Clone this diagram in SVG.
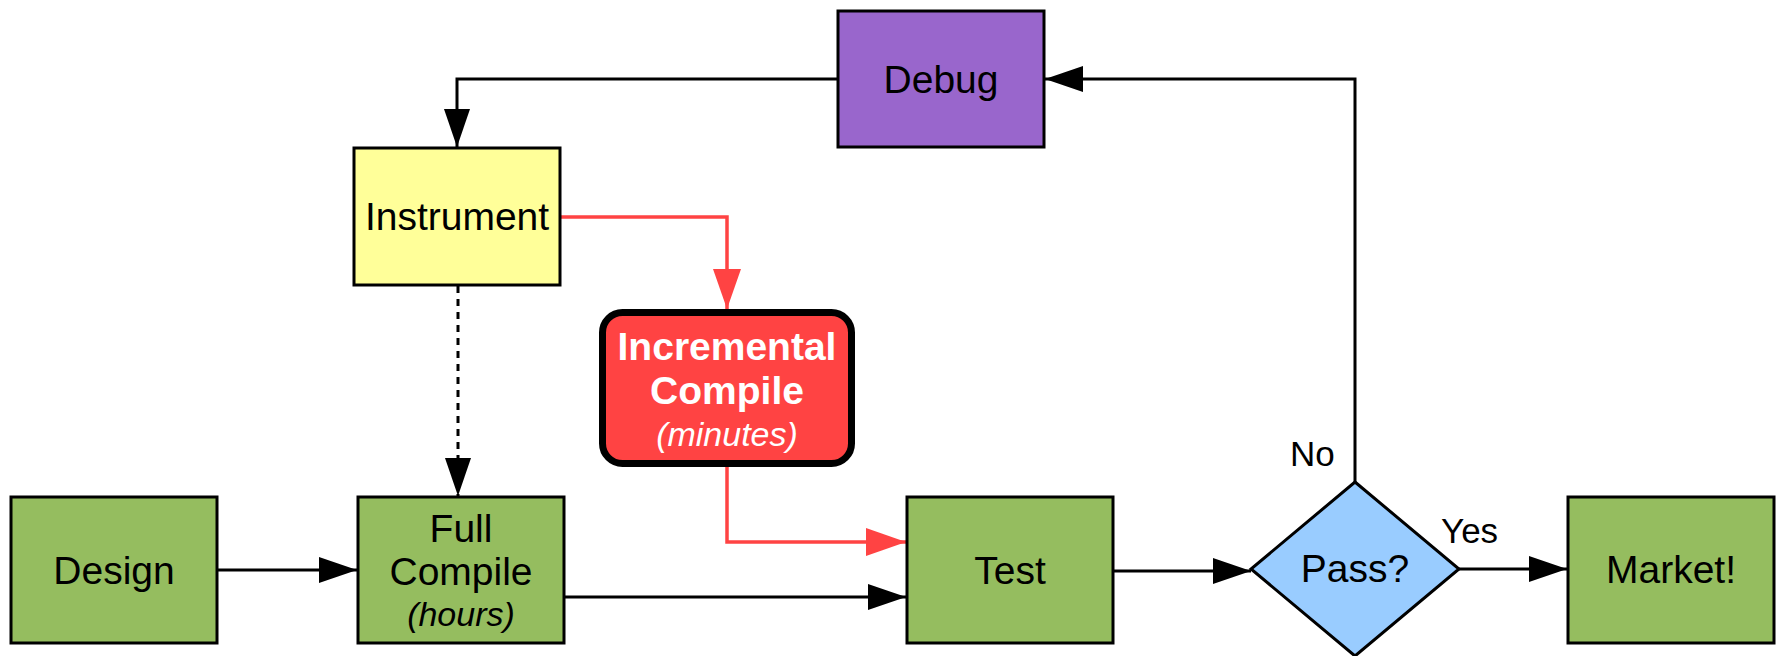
<svg xmlns="http://www.w3.org/2000/svg" width="1777" height="656" viewBox="0 0 1777 656">
  <style>
    .box { stroke: #000; stroke-width: 3; }
    .green { fill: #95bd5f; }
    .lbl { font-family: "Liberation Sans", Arial, sans-serif; font-size: 39px; fill: #000; text-anchor: middle; }
    .note { font-family: "Liberation Sans", Arial, sans-serif; font-size: 35px; fill: #000; }
    .ital { font-style: italic; font-size: 34px; }
    .wire { fill: none; stroke: #000; stroke-width: 3; }
    .hot { fill: none; stroke: #ff4343; stroke-width: 3.5; }
  </style>
  <defs>
    <marker id="arrow" markerUnits="userSpaceOnUse" markerWidth="38" markerHeight="26" refX="38" refY="13" orient="auto">
      <path d="M0,0 L38,13 L0,26 z" fill="#000"/>
    </marker>
    <marker id="arrowRed" markerUnits="userSpaceOnUse" markerWidth="40" markerHeight="28" refX="40" refY="14" orient="auto">
      <path d="M0,0 L40,14 L0,28 z" fill="#ff4343"/>
    </marker>
  </defs>

  <!-- connectors -->
  <g id="connectors">
    <path class="wire" d="M218,570 H357" marker-end="url(#arrow)"/>
    <path class="wire" d="M565,597 H906" marker-end="url(#arrow)"/>
    <path class="wire" d="M1114,571 H1251" marker-end="url(#arrow)"/>
    <path class="wire" d="M1459,569 H1567" marker-end="url(#arrow)"/>
    <path class="wire" d="M1355,482 V79 H1045" marker-end="url(#arrow)"/>
    <path class="wire" d="M837,79 H457 V147" marker-end="url(#arrow)"/>
    <path class="wire" d="M458,286 V496" stroke-dasharray="7 6" stroke-width="3.5" marker-end="url(#arrow)"/>
    <path class="hot" d="M561,217 H727 V309" marker-end="url(#arrowRed)"/>
    <path class="hot" d="M727,467 V542 H906" marker-end="url(#arrowRed)"/>
    <text class="note" x="1290" y="466">No</text>
    <text class="note" x="1441" y="543">Yes</text>
  </g>

  <g id="debug">
    <rect class="box" x="838" y="11" width="206" height="136" fill="#9966cc"/>
    <text class="lbl" x="941" y="93">Debug</text>
  </g>

  <g id="instrument">
    <rect class="box" x="354" y="148" width="206" height="137" fill="#ffff99"/>
    <text class="lbl" x="457" y="230">Instrument</text>
  </g>

  <g id="incremental">
    <rect x="602.5" y="312.5" width="249" height="151" rx="20" fill="#ff4343" stroke="#000" stroke-width="7"/>
    <text class="lbl" x="727" y="360" style="fill:#fff;font-weight:bold">Incremental</text>
    <text class="lbl" x="727" y="404" style="fill:#fff;font-weight:bold">Compile</text>
    <text class="lbl ital" x="727" y="446" style="fill:#fff">(minutes)</text>
  </g>

  <g id="design">
    <rect class="box green" x="11" y="497" width="206" height="146"/>
    <text class="lbl" x="114" y="584">Design</text>
  </g>

  <g id="full-compile">
    <rect class="box green" x="358" y="497" width="206" height="146"/>
    <text class="lbl" x="461" y="542">Full</text>
    <text class="lbl" x="461" y="585">Compile</text>
    <text class="lbl ital" x="461" y="626">(hours)</text>
  </g>

  <g id="test">
    <rect class="box green" x="907" y="497" width="206" height="146"/>
    <text class="lbl" x="1010" y="584">Test</text>
  </g>

  <g id="pass">
    <polygon class="box" points="1355,482 1459,569 1355,656 1251,569" fill="#99ccff"/>
    <text class="lbl" x="1355" y="582">Pass?</text>
  </g>

  <g id="market">
    <rect class="box green" x="1568" y="497" width="206" height="146"/>
    <text class="lbl" x="1671" y="583">Market!</text>
  </g>
</svg>
